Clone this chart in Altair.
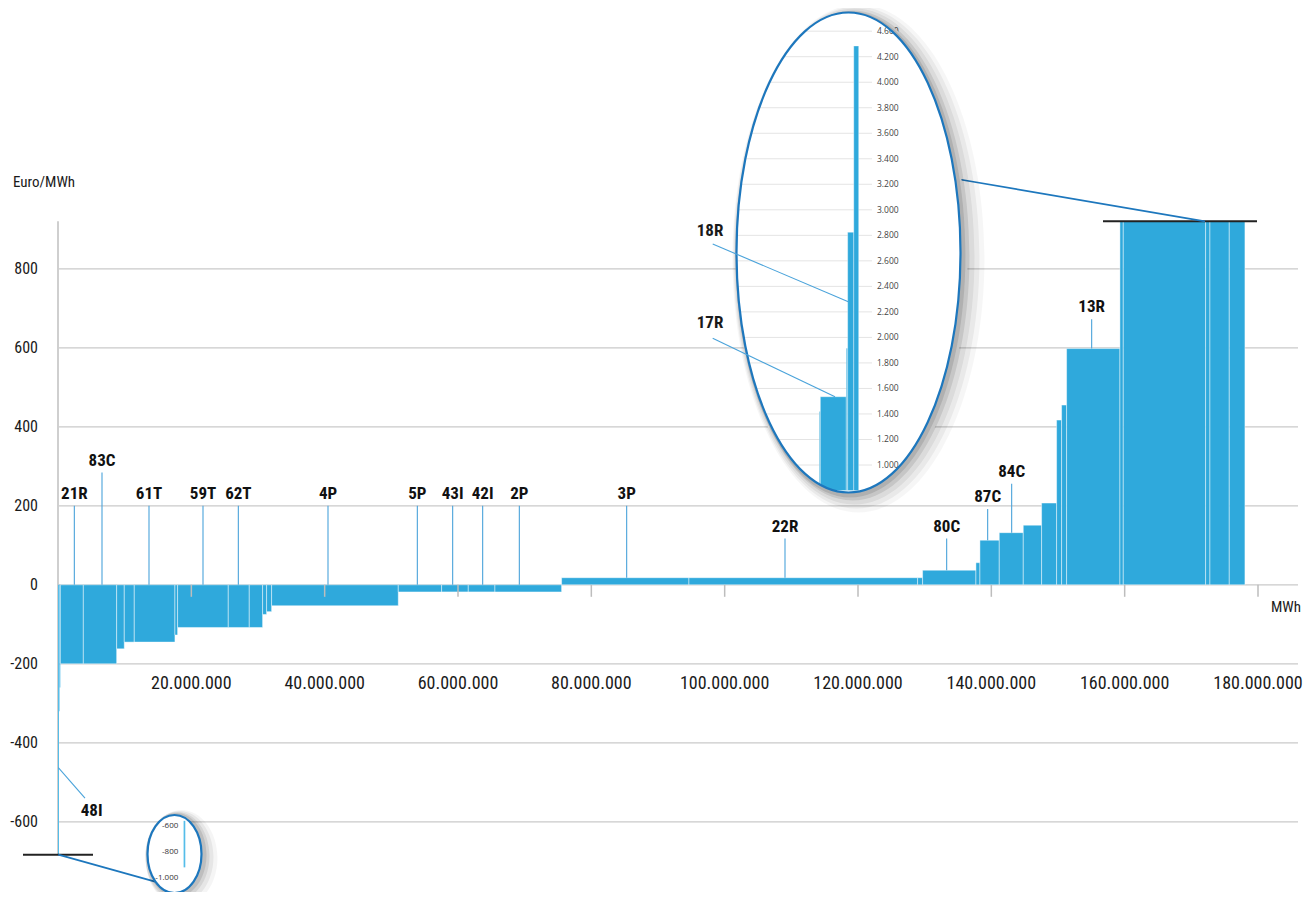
import altair as alt
import pandas as pd

# ------------------------------------------------------------------ data
block_widths = [0.15e6, 0.08e6, 0.12e6, 3.45e6, 5.0e6, 1.14e6, 1.5e6, 6.1e6, 0.4e6,
                7.6e6, 3.15e6, 2.0e6, 0.6e6, 0.75e6, 19.0e6, 6.5e6, 4.0e6, 4.0e6,
                10.0e6, 19.1e6, 34.3e6, 0.75e6, 8.0e6, 0.6e6, 2.9e6, 3.6e6, 2.75e6,
                2.25e6, 0.75e6, 0.75e6, 8.0e6, 0.5e6, 12.35e6, 0.65e6, 2.9e6, 2.35e6]
block_prices = [-920, -320, -260, -200, -200, -162, -145, -145, -127,
                -108, -108, -108, -75, -68, -53, -18, -18, -18,
                -18, 18, 18, 18, 37, 56, 113, 132, 151,
                207, 417, 455, 598, 1420, 1535, 1915, 2824, 4284]

label_names = ["21R", "83C", "61T", "59T", "62T", "4P", "5P", "43I", "42I", "2P",
               "3P", "22R", "80C", "87C", "84C", "13R"]
label_x = [2.45e6, 6.6e6, 13.65e6, 21.75e6, 27.05e6, 40.5e6, 53.9e6, 59.2e6, 63.7e6,
           69.2e6, 85.3e6, 109.05e6, 133.3e6, 139.45e6, 143.05e6, 155.05e6]
label_top = [200, 284, 200, 200, 200, 200, 200, 200, 200, 200, 200, 117, 117, 192, 256, 672]
label_base = [0, 0, 0, 0, 0, 0, 0, 0, 0, 0, 18, 18, 37, 113, 132, 598]

l48_name = ["48I"]
l48_from = [0.05e6, -463]
l48_to = [4.05e6, -540]
l48_text_pos = [5.05e6, -572]

x_ticks = [20e6, 40e6, 60e6, 80e6, 100e6, 120e6, 140e6, 160e6, 180e6]
x_tick_labels = ["20.000.000", "40.000.000", "60.000.000", "80.000.000", "100.000.000",
                 "120.000.000", "140.000.000", "160.000.000", "180.000.000"]
y_ticks = [-600, -400, -200, 0, 200, 400, 600, 800]
y_tick_labels = ["-600", "-400", "-200", "0", "200", "400", "600", "800"]
inset_ticks = [1000, 1200, 1400, 1600, 1800, 2000, 2200, 2400, 2600, 2800, 3000,
               3200, 3400, 3600, 3800, 4000, 4200, 4400]
inset_tick_labels = ["1.000", "1.200", "1.400", "1.600", "1.800", "2.000", "2.200",
                     "2.400", "2.600", "2.800", "3.000", "3.200", "3.400", "3.600",
                     "3.800", "4.000", "4.200", "4.600"]
small_ticks = [-600, -800, -1000]
small_tick_labels = ["-600", "-800", "-1.000"]

TOP_CAP = 920
BOTTOM_CAP = -683

# ------------------------------------------------------------------ layout
W, H = 1240, 877
XMAX = 186e6
XS = alt.Scale(domain=[0, XMAX], nice=False, zero=False)
YS = alt.Scale(domain=[-770, 1450], nice=False, zero=False)
K = H / 2220.0          # px per Euro/MWh
Y0 = 1450 * K           # pixel row of price 0
MPX = XMAX / W          # MWh per px

BLUE = "#2fa9dc"
LINE_BLUE = "#4aa3da"
DARK_BLUE = "#1d77bd"
LABEL_FONT = "Roboto Condensed"
AXIS_FONT = "Roboto Condensed"
TEXT_COLOR = "#1a1a1a"

CX, CY, A, B = 790.5, 240.5, 112, 240       # big magnifier (plot px)
SCX, SCY, SA, SB = 116.5, 842, 27, 39       # small magnifier

IY_D = [1000, 4200]
IY_R = [453.0, 44.7]
IX_R = [761.3, 800.7]
SY_D = [-1000, -600]
SY_R = [865.7, 814.0]
SX_R = [125.6, 127.3]


def ell(cx, cy, a, b, cw=True):
    s = 1 if cw else 0
    return (f"M{cx - a:.2f},{cy:.2f}A{a:.2f},{b:.2f},0,1,{s},{cx + a:.2f},{cy:.2f}"
            f"A{a:.2f},{b:.2f},0,1,{s},{cx - a:.2f},{cy:.2f}Z")


def ring(dx, dy, a, b, ea, eb):
    return ell(dx, dy, a + ea, b + eb, True) + ell(0, 0, a, b, False)


def ypix_to_val(expr_px):
    return f"({Y0} - ({expr_px})) / {K}"


def lin(field, d0, d1, r0, r1):
    return f"({r0} + ({field} - {d0}) * ({r1} - {r0}) / ({d1} - {d0}))"


one = pd.DataFrame({"a": [0]})

# ------------------------------------------------------------------ frames
ends = []
acc = 0.0
for w in block_widths:
    acc += w
    ends.append(acc)
starts = [e - w for e, w in zip(ends, block_widths)]
blocks = pd.DataFrame({"start": starts, "end": ends, "price": block_prices})
blocks["zero"] = 0

grid_df = pd.DataFrame({"v": y_ticks, "t": y_tick_labels, "x0": 0.0, "x1": XMAX})
xt_df = pd.DataFrame({"v": x_ticks, "t": x_tick_labels})
labels_df = pd.DataFrame({"name": label_names, "x": label_x, "top": label_top,
                          "base": label_base})
caps_df = pd.DataFrame({"x0": [156.75e6, -5.25e6], "x1": [179.85e6, 5.25e6],
                        "y": [TOP_CAP, BOTTOM_CAP]})
l48_df = pd.DataFrame({"name": l48_name, "x": [l48_from[0]], "y": [l48_from[1]],
                       "x2": [l48_to[0]], "y2": [l48_to[1]],
                       "tx": [l48_text_pos[0]], "ty": [l48_text_pos[1]]})

X_ = lambda f, **k: alt.X(f, scale=XS, axis=None, **k)
Y_ = lambda f, **k: alt.Y(f, scale=YS, axis=None, **k)

# ------------------------------------------------------------------ axes (drawn from tick lists)
grid = alt.Chart(grid_df).mark_rule(color="#cacaca", strokeWidth=1.2).encode(
    x=X_("x0:Q"), x2="x1:Q", y=Y_("v:Q"))
ylabels = alt.Chart(grid_df).mark_text(
    font=AXIS_FONT, fontSize=16, align="right", baseline="middle", color=TEXT_COLOR
).encode(x=alt.value(-20), y=Y_("v:Q"), text="t:N")
yline = alt.Chart(one).transform_calculate(
    xx="0", ya=str(BOTTOM_CAP), yb=str(TOP_CAP)
).mark_rule(color="#cfcfcf", strokeWidth=2).encode(
    x=X_("xx:Q"), y=Y_("ya:Q"), y2="yb:Q")
xticks = alt.Chart(xt_df).mark_rule(color="#bdbdbd", strokeWidth=1.5).encode(
    x=X_("v:Q"), y=alt.value(Y0), y2=alt.value(Y0 + 12))
xlabels = alt.Chart(xt_df).mark_text(
    font=AXIS_FONT, fontSize=18, align="center", baseline="middle", color=TEXT_COLOR
).encode(x=X_("v:Q"), y=alt.value(672), text="t:N")


def text_px(t, x, y, size=18, weight="bold", align="center", font=LABEL_FONT):
    return alt.Chart(one).mark_text(
        text=t, font=font, fontSize=size, fontWeight=weight, align=align,
        baseline="middle", color=TEXT_COLOR).encode(x=alt.value(x), y=alt.value(y))


ytitle = text_px("Euro/MWh", -45, 170, size=15, weight="normal", align="left", font=AXIS_FONT)
xtitle = text_px("MWh", 1213, Y0 + 22, size=15, weight="normal", align="left", font=AXIS_FONT)

# ------------------------------------------------------------------ bars and labels
bars = alt.Chart(blocks).transform_calculate(
    yc=f"max(min(datum.price, {TOP_CAP}), {BOTTOM_CAP})",
    narrow=f"(datum.end - datum.start) < {2 * MPX}",
).mark_rect(stroke="white", strokeOpacity=0.75).encode(
    x=X_("start:Q"), x2="end:Q", y=Y_("yc:Q"), y2="zero:Q",
    color=alt.condition("datum.narrow", alt.value("#55bde9"), alt.value(BLUE)),
    strokeWidth=alt.condition("datum.narrow", alt.value(0), alt.value(0.6)),
)

leaders = alt.Chart(labels_df).mark_rule(color=LINE_BLUE, strokeWidth=1.1).encode(
    x=X_("x:Q"), y=Y_("top:Q"), y2="base:Q")
texts = alt.Chart(labels_df).mark_text(
    font=LABEL_FONT, fontSize=17, fontWeight="bold", baseline="alphabetic", dy=-7,
    color="#111").encode(x=X_("x:Q"), y=Y_("top:Q"), text="name:N")
l48_line = alt.Chart(l48_df).mark_rule(color=LINE_BLUE, strokeWidth=1.1).encode(
    x=X_("x:Q"), y=Y_("y:Q"), x2="x2:Q", y2="y2:Q")
l48_text = alt.Chart(l48_df).mark_text(
    font=LABEL_FONT, fontSize=17, fontWeight="bold", baseline="middle",
    color="#111").encode(x=X_("tx:Q"), y=Y_("ty:Q"), text="name:N")
caps = alt.Chart(caps_df).mark_rule(color="#222", strokeWidth=2).encode(
    x=X_("x0:Q"), x2="x1:Q", y=Y_("y:Q"))


# ------------------------------------------------------------------ magnifiers
def rule_px(x1, y1, x2, y2, color, w):
    return alt.Chart(one).mark_rule(color=color, strokeWidth=w).encode(
        x=alt.value(x1), y=alt.value(y1), x2=alt.value(x2), y2=alt.value(y2))


def shape_px(path, cx, cy, fill=None, stroke=None, sw=0, opacity=1.0):
    kw = dict(shape=path, size=4, opacity=1)
    if fill is not None:
        kw.update(filled=True, fill=fill, fillOpacity=opacity, strokeWidth=0)
    else:
        kw.update(filled=False, stroke=stroke, strokeWidth=sw, strokeOpacity=opacity)
    return alt.Chart(one).mark_point(**kw).encode(x=alt.value(cx), y=alt.value(cy))


conn_big = rule_px(899, 167, 1147, 209.4, DARK_BLUE, 1.6)
conn_small = rule_px(0.3, 842.6, 97, 869.7, DARK_BLUE, 1.8)
white_big = shape_px(ell(0, 0, A, B), CX, CY, fill="white")
white_small = shape_px(ell(0, 0, SA, SB), SCX, SCY, fill="white")

igrid_df = pd.DataFrame({"v": inset_ticks})
inset_grid = alt.Chart(igrid_df).transform_calculate(
    py=lin("datum.v", IY_D[0], IY_D[1], IY_R[0], IY_R[1])
).transform_calculate(
    gx0=f"({CX} - {A} * sqrt(max(0, 1 - pow((datum.py - {CY}) / {B}, 2)))) * {MPX}",
    gx1=f"814 * {MPX}",
    gy=ypix_to_val("datum.py"),
).mark_rule(color="#e4e4e4", strokeWidth=1).encode(
    x=X_("gx0:Q"), x2="gx1:Q", y=Y_("gy:Q"))

inset_blocks = blocks[blocks["price"] > TOP_CAP]
IS0 = float(inset_blocks["start"].min())
IS1 = float(inset_blocks["end"].max())
inset_bars = alt.Chart(blocks).transform_filter(
    f"datum.price > {TOP_CAP}"
).transform_calculate(
    ix0=f"{lin('datum.start', IS0, IS1, IX_R[0], IX_R[1])} * {MPX}",
    ix1=f"{lin('datum.end', IS0, IS1, IX_R[0], IX_R[1])} * {MPX}",
    iy=ypix_to_val(lin("datum.price", IY_D[0], IY_D[1], IY_R[0], IY_R[1])),
    iyb=ypix_to_val(lin("800", IY_D[0], IY_D[1], IY_R[0], IY_R[1])),
).mark_rect(color=BLUE, stroke="white", strokeWidth=0.5, strokeOpacity=0.7).encode(
    x=X_("ix0:Q"), x2="ix1:Q", y=Y_("iy:Q"), y2="iyb:Q")

ilab_df = pd.DataFrame({"v": inset_ticks, "t": inset_tick_labels})
inset_labels = alt.Chart(ilab_df).transform_calculate(
    ly=ypix_to_val(lin("datum.v", IY_D[0], IY_D[1], IY_R[0], IY_R[1]))
).mark_text(font="Open Sans", fontSize=8.5, align="left", baseline="middle",
            color="#444").encode(x=alt.value(819), y=Y_("ly:Q"), text="t:N")

small_blocks = blocks[blocks["price"] < BOTTOM_CAP]
SS0 = float(small_blocks["start"].min())
SS1 = float(small_blocks["end"].max())
small_bar = alt.Chart(blocks).transform_filter(
    f"datum.price < {BOTTOM_CAP}"
).transform_calculate(
    sx0=f"{lin('datum.start', SS0, SS1, SX_R[0], SX_R[1])} * {MPX}",
    sx1=f"{lin('datum.end', SS0, SS1, SX_R[0], SX_R[1])} * {MPX}",
    sy=ypix_to_val(lin("datum.price", SY_D[0], SY_D[1], SY_R[0], SY_R[1])),
    syt=ypix_to_val(lin("-560", SY_D[0], SY_D[1], SY_R[0], SY_R[1])),
).mark_rect(color="#55bde9").encode(x=X_("sx0:Q"), x2="sx1:Q", y=Y_("sy:Q"), y2="syt:Q")

slab_df = pd.DataFrame({"v": small_ticks, "t": small_tick_labels})
small_labels = alt.Chart(slab_df).transform_calculate(
    ly=ypix_to_val(lin("datum.v", SY_D[0], SY_D[1], SY_R[0], SY_R[1]))
).mark_text(font="Open Sans", fontSize=8, align="right", baseline="middle",
            color="#333").encode(x=alt.value(120.3), y=Y_("ly:Q"), text="t:N")

mask_big = shape_px(ring(3, 4, A, B, 4, 6), CX, CY, fill="white")
shadows = []
for dx, dy, e, op in [(2, 2, 3, 0.11), (4, 3, 5, 0.09), (6, 4, 8, 0.06),
                      (8, 5, 11, 0.05), (10, 6, 14, 0.035)]:
    shadows.append(shape_px(ring(dx, dy, A, B, e, e), CX, CY, fill="#000", opacity=op))
for dx, dy, e, op in [(2, 1, 3, 0.10), (3, 2, 5, 0.08), (5, 3, 7, 0.06), (7, 4, 9, 0.04)]:
    shadows.append(shape_px(ring(dx, dy, SA, SB, e, e), SCX, SCY, fill="#000", opacity=op))
outline_big = shape_px(ell(0, 0, A, B), CX, CY, stroke=DARK_BLUE, sw=2.2)
outline_small = shape_px(ell(0, 0, SA, SB), SCX, SCY, stroke=DARK_BLUE, sw=2.2)

ann18 = text_px("18R", 652, 218.8, size=17)
ann17 = text_px("17R", 652, 310.5, size=17)
lead18 = rule_px(654.7, 232, 790.3, 289.7, LINE_BLUE, 1.1)
lead17 = rule_px(654.7, 326.3, 777, 384.7, LINE_BLUE, 1.1)

chart = alt.layer(
    grid, yline, bars, xticks, leaders, texts, l48_line, l48_text, caps,
    ylabels, xlabels, ytitle, xtitle,
    conn_big, conn_small, white_big, white_small, inset_grid,
    inset_bars, inset_labels, small_bar, small_labels,
    mask_big, *shadows, outline_big, outline_small, lead18, lead17, ann18, ann17,
).properties(
    width=W, height=H,
    autosize=alt.AutoSizeParams(type="none"),
    padding={"left": 50, "top": 4, "right": 5, "bottom": 3},
).configure_view(stroke=None)

chart.save("out.html", embed_options={"renderer": "svg", "actions": False})
